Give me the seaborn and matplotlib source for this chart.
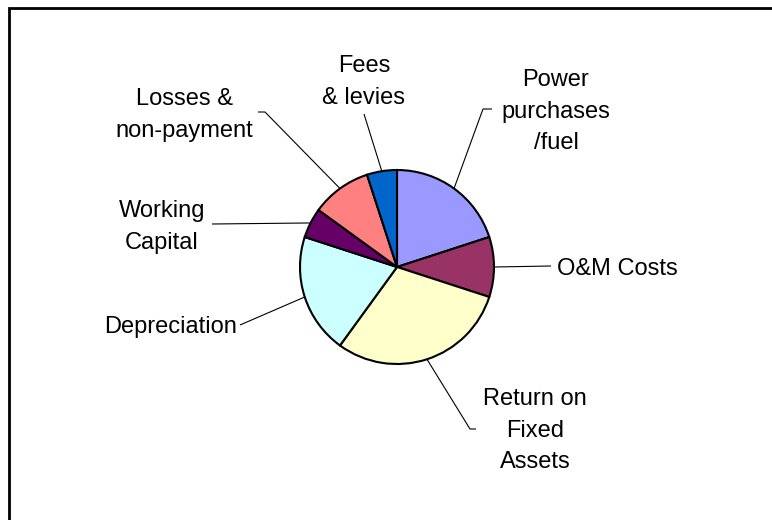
import matplotlib
matplotlib.use("Agg")
import matplotlib.pyplot as plt
import matplotlib.patches as mpatches
import numpy as np
import seaborn as sns

# cost components of the tariff, clockwise from 12 o'clock
labels = ["Power\npurchases\n/fuel", "O&M Costs", "Return on\nFixed\nAssets",
          "Depreciation", "Working\nCapital", "Losses &\nnon-payment", "Fees\n& levies"]
shares = [20, 10, 30, 20, 5, 10, 5]
colors = ["#9999FF", "#993366", "#FFFFCC", "#CCFFFF", "#660066", "#FF8080", "#0066CC"]

W, H = 772, 520

# label placement (pixel coords, y measured from top): x, top y, alignment
label_pos = [(556, 69, "center"), (557, 258, "left"), (535, 388, "center"),
             (237, 316, "right"), (162, 200, "center"), (184, 88, "center"),
             (364, 55, "center")]
# leader line points after the wedge edge point
leader_pts = [[(483, 109), (492, 109)], [(551, 266)], [(470, 429), (476, 429)],
              [(240, 325)], [(212, 224)], [(265, 112), (258, 112)], [(364, 114)]]

sns.set_theme(style="white")
plt.rcParams["font.family"] = ["Liberation Sans", "DejaVu Sans"]


def px(x, y):
    return x, H - y


fig = plt.figure(figsize=(W / 100, H / 100), dpi=100)
ax = fig.add_axes([0, 0, 1, 1])

wedges, _ = ax.pie(shares, colors=sns.color_palette(colors), startangle=90,
                   counterclock=False, radius=97, center=px(397, 267), frame=True,
                   wedgeprops=dict(edgecolor="black", linewidth=1.5))

ax.set_xlim(0, W)
ax.set_ylim(0, H)
ax.set_aspect("equal")
ax.set_axis_off()

for w, lab, (tx, ty, ha), pts in zip(wedges, labels, label_pos, leader_pts):
    mid = np.deg2rad((w.theta1 + w.theta2) / 2)
    cx, cy = w.center
    xs = [cx + w.r * np.cos(mid)] + [p[0] for p in pts]
    ys = [cy + w.r * np.sin(mid)] + [H - p[1] for p in pts]
    ax.plot(xs, ys, color="black", lw=0.8, solid_capstyle="butt")
    ax.text(*px(tx, ty), lab, ha=ha, va="top", fontsize=17, color="black",
            linespacing=1.56, multialignment="center")

# chart area border (only top and left edges fall inside the image)
ax.add_patch(mpatches.Rectangle(px(9, 560), 800, 552, fill=False, edgecolor="black",
                                linewidth=2, clip_on=False))

fig.savefig("out.png", dpi=100)
